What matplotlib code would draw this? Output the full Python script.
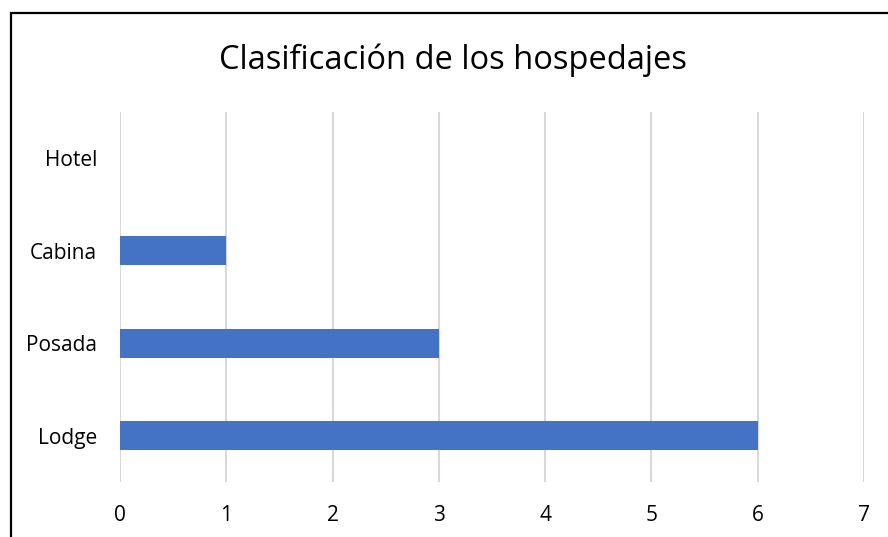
import matplotlib.pyplot as plt
from matplotlib.patches import Rectangle

categories = ['Lodge', 'Posada', 'Cabina', 'Hotel']
values = [6, 3, 1, 0]
xticks = [0, 1, 2, 3, 4, 5, 6, 7]
title = 'Clasificación de los hospedajes'

plt.rcParams['font.family'] = ['Open Sans', 'DejaVu Sans']

fig = plt.figure(figsize=(8.88, 5.37), dpi=100)
ax = fig.add_axes([0.1351, 0.1024, 0.8378, 0.689])

ax.barh(range(len(categories)), values, height=0.31, color='#4472c4', zorder=3)
ax.set_ylim(-0.5, 3.5)
ax.set_xlim(0, 7)
ax.set_xticks(xticks)
ax.set_yticks(range(len(categories)))
ax.set_yticklabels(categories)
ax.grid(axis='x', color='#d9d9d9', linewidth=1.5, zorder=0)
for s in ax.spines.values():
    s.set_visible(False)
ax.tick_params(axis='both', length=0, colors='black')
ax.tick_params(axis='y', pad=16.5, labelsize=15)
ax.tick_params(axis='x', pad=16.5, labelsize=15)

fig.text(0.51, 0.888, title, ha='center', va='center', fontsize=23.5)

# outer chart border (right and bottom edges fall outside the image)
fig.patches.append(Rectangle((0.0124, -0.05), 1.2, 1.0258, transform=fig.transFigure,
                             fill=False, edgecolor='black', linewidth=1.6))

fig.savefig('out.png', dpi=100)
